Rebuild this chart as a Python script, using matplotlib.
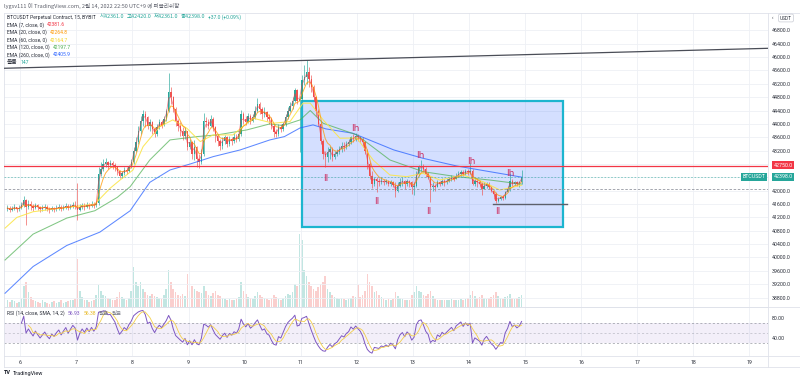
import numpy as np
import pandas as pd
import matplotlib
matplotlib.use("Agg")
import matplotlib.pyplot as plt
from matplotlib.patches import Rectangle
from matplotlib.lines import Line2D

plt.rcParams['font.family'] = ['Roboto', 'Noto Sans CJK KR', 'DejaVu Sans']
KR = ['Noto Sans CJK KR', 'DejaVu Sans']

# ---------------- data (hourly candles from Feb 5 18:00, UTC+9) ----------------
start_day = 5.75
first_open = 41450
close = [
    41480, 41420, 41460, 41510, 41440, 41470, 41560, 41720, 41520, 41600,
    41540, 41480, 41560, 41500, 41440, 41480, 41520, 41460, 41420, 41470,
    41440, 41480, 41510, 41460, 41500, 41540, 41490, 41530, 41580, 41560,
    41420, 41500, 41560, 41520, 41580, 41540, 41600, 41560, 41620, 42500,
    42650, 42800, 42850, 42780, 42820, 42760, 42700, 42580, 42450, 42520,
    42620, 42580, 42720, 42850, 43200, 43450, 43800, 44100, 44300, 44200,
    43950, 44050, 43850, 43700, 43900, 44050, 43980, 44150, 44380, 44950,
    44800, 44450, 44100, 43950, 43800, 43650, 43780, 43300, 43450, 43100,
    43300, 42950, 42850, 43100, 44100, 44050, 43950, 44150, 43900, 43650,
    43500, 43350, 43500, 43600, 43400, 43550, 43480, 43600, 43550, 43700,
    44300, 44150, 44050, 44250, 44100, 44200, 44400, 44600, 44450, 44300,
    44350, 44200, 44150, 43950, 43750, 43700, 43900, 43850, 44000, 44200,
    44400, 44550, 44700, 45000, 44700, 44750, 45300, 45400, 45550, 45350,
    45100, 44800, 44400, 44000, 43500, 43100, 43000, 43150, 43250, 43000,
    43100, 43150, 43250, 43350, 43300, 43400, 43450, 43600, 43550, 43650,
    43600, 43550, 43450, 43200, 42800, 42450, 42200, 42350, 42300, 42250,
    42300, 42250, 42280, 42200, 42250, 42180, 42000, 42150, 42250, 42300,
    42200, 42300, 42250, 42100, 42150, 42500, 42700, 42750, 42650, 42500,
    42420, 42100, 42150, 42100, 42250, 42200, 42300, 42250, 42300, 42350,
    42400, 42350, 42450, 42500, 42550, 42500, 42580, 42550, 42600, 42200,
    42300, 42250, 42200, 42050, 42150, 42200, 42100, 41980, 41900, 41700,
    41750, 41800, 41780, 41950, 42050, 42300, 42200, 42250, 42200, 42250,
    42398]
high = [
    41560, 41530, 41540, 41600, 41520, 41560, 41650, 41830, 41760, 41720,
    41680, 41600, 41640, 41600, 41540, 41560, 41600, 41560, 41500, 41540,
    41520, 41560, 41590, 41560, 41580, 41620, 41600, 41610, 41660, 41700,
    42230, 41600, 41640, 41620, 41660, 41640, 41680, 41660, 41700, 42700,
    42850, 42950, 42980, 42900, 42920, 42880, 42820, 42720, 42620, 42600,
    42700, 42700, 42780, 42950, 43300, 43600, 43950, 44250, 44420, 44380,
    44250, 44150, 44100, 43900, 44000, 44150, 44120, 44250, 44450, 45510,
    45100, 44850, 44500, 44150, 44050, 43900, 43900, 43800, 43550, 43500,
    43520, 43350, 43100, 43250, 44320, 44200, 44150, 44270, 44200, 43950,
    43700, 43550, 43600, 43680, 43630, 43650, 43620, 43730, 43700, 43780,
    44420, 44350, 44250, 44320, 44300, 44300, 44550, 44770, 44650, 44520,
    44500, 44400, 44300, 44200, 44000, 43850, 44000, 44000, 44060, 44300,
    44500, 44650, 44800, 45080, 45050, 44850, 45470, 45760, 45910, 45700,
    45450, 45150, 44850, 44450, 44050, 43550, 43200, 43300, 43350, 43300,
    43200, 43250, 43350, 43450, 43460, 43500, 43550, 43650, 43700, 43730,
    43700, 43650, 43600, 43500, 43250, 42850, 42600, 42420, 42420, 42380,
    42400, 42350, 42360, 42330, 42320, 42300, 42250, 42250, 42380, 42400,
    42320, 42350, 42330, 42300, 42250, 42600, 42780, 42920, 42800, 42700,
    42550, 42450, 42250, 42200, 42330, 42300, 42380, 42350, 42380, 42420,
    42470, 42450, 42520, 42580, 42620, 42620, 42640, 42650, 42820, 42650,
    42380, 42350, 42320, 42250, 42260, 42260, 42250, 42150, 42000, 41950,
    41820, 41850, 41860, 42000, 42150, 42520, 42350, 42300, 42280, 42300,
    42620]
low = [
    41380, 41350, 41380, 41420, 41360, 41390, 41440, 41500, 40970, 41450,
    41430, 41400, 41450, 41420, 41360, 41390, 41420, 41380, 41340, 41380,
    41360, 41400, 41420, 41390, 41410, 41440, 41410, 41440, 41470, 41460,
    41120, 41380, 41450, 41430, 41480, 41450, 41500, 41470, 41520, 41580,
    42450, 42600, 42700, 42650, 42700, 42650, 42580, 42480, 42380, 42380,
    42480, 42500, 42560, 42680, 42800, 43150, 43400, 43700, 43950, 43900,
    43850, 43800, 43700, 43600, 43650, 43850, 43880, 43950, 44100, 44350,
    44600, 44350, 43950, 43800, 43650, 43520, 43550, 43220, 43250, 42950,
    42920, 42720, 42680, 42800, 43050, 43900, 43850, 43900, 43800, 43460,
    43350, 43220, 43250, 43400, 43300, 43350, 43380, 43420, 43450, 43500,
    43650, 44000, 43980, 44020, 44000, 44050, 44150, 44350, 44300, 44150,
    44200, 44100, 44000, 43850, 43620, 43600, 43650, 43750, 43800, 43950,
    44150, 44350, 44450, 44650, 44600, 43170, 44700, 45150, 45200, 45100,
    44950, 44700, 44250, 43950, 43400, 42950, 42710, 42850, 42950, 42900,
    42950, 43050, 43100, 43170, 43200, 43250, 43350, 43400, 43450, 43500,
    43480, 43450, 43300, 43100, 42650, 42350, 42080, 42150, 41970, 42150,
    42200, 42170, 42200, 42150, 42150, 42100, 41800, 41950, 42100, 42150,
    42050, 42150, 42100, 41900, 41870, 42100, 42450, 42600, 42550, 42400,
    42350, 41670, 42000, 42000, 42100, 42150, 42180, 42150, 42200, 42250,
    42300, 42300, 42350, 42400, 42450, 42450, 42470, 42480, 42500, 42170,
    42150, 42120, 42100, 41870, 42050, 42070, 42050, 41950, 41750, 41620,
    41650, 41720, 41720, 41760, 41950, 42000, 42150, 42170, 42150, 42100,
    42200]
volume = [
    80, 60, 90, 70, 50, 60, 110, 250, 300, 180,
    120, 90, 70, 60, 50, 80, 60, 50, 40, 60,
    70, 50, 60, 80, 50, 60, 70, 90, 80, 100,
    590, 200, 120, 90, 80, 60, 70, 90, 150, 270,
    200, 150, 130, 110, 100, 90, 80, 120, 180, 120,
    100, 90, 110, 200, 490, 300, 250, 310, 220, 180,
    150, 130, 160, 140, 120, 110, 100, 150, 220, 450,
    300, 220, 180, 150, 130, 160, 140, 400, 200, 250,
    220, 200, 180, 170, 260, 190, 150, 140, 170, 200,
    150, 130, 110, 100, 90, 100, 80, 90, 100, 120,
    300, 200, 160, 120, 110, 100, 130, 180, 150, 120,
    110, 100, 90, 110, 150, 120, 100, 90, 110, 130,
    160, 150, 180, 280, 250, 890, 820, 450, 380, 300,
    260, 220, 200, 240, 280, 300, 380, 220, 180, 150,
    120, 110, 100, 110, 100, 90, 100, 110, 130, 120,
    270, 120, 150, 200, 400, 300, 250, 180, 200, 150,
    120, 100, 90, 100, 90, 100, 180, 130, 110, 100,
    90, 80, 90, 150, 180, 250, 200, 180, 150, 140,
    160, 200, 140, 100, 90, 80, 80, 90, 80, 90,
    100, 90, 80, 90, 100, 90, 100, 110, 150, 200,
    130, 110, 120, 150, 110, 100, 110, 120, 150, 180,
    130, 110, 100, 120, 130, 160, 110, 100, 110, 120,
    147]

# EMA lines (day, value)
ema60_t = [5.73, 5.94, 6.23, 6.83, 7.33, 7.60, 7.78, 8.01, 8.19, 8.49, 8.72, 8.97, 9.21, 9.44, 9.79, 10.15,
           10.51, 10.81, 11.04, 11.17, 11.40, 11.70, 12.00, 12.29, 12.59, 12.89, 13.18, 13.48, 13.89, 14.25, 14.55, 14.94]
ema60_v = [40880, 41200, 41370, 41500, 41600, 42070, 42320, 42620, 43320, 43920, 44120, 43870, 43470, 43670, 43670, 44170,
           44020, 44070, 44620, 44620, 44120, 43570, 43580, 42920, 42470, 42420, 42520, 42320, 42470, 42270, 42020, 42165]
ema120_t = [5.73, 6.23, 6.83, 7.33, 7.73, 7.96, 8.31, 8.67, 9.15, 9.51, 10.04, 10.45, 10.68, 10.99, 11.17, 11.40,
            12.00, 12.59, 13.18, 13.78, 14.37, 14.94]
ema120_v = [39925, 40700, 41180, 41400, 41800, 42120, 42920, 43520, 43620, 43670, 43820, 44000, 43950, 44120, 44400, 44020,
            43670, 42920, 42570, 42420, 42320, 42198]
ema260_t = [5.73, 6.23, 6.83, 7.42, 7.96, 8.31, 8.67, 9.03, 9.44, 9.92, 10.45, 10.71, 10.99, 11.22, 11.45, 11.93,
            12.66, 13.18, 13.78, 14.37, 14.94]
ema260_v = [38930, 39730, 40360, 40760, 41400, 42250, 42620, 42800, 43020, 43220, 43520, 43620, 43880, 43970, 43850, 43720,
            43220, 42970, 42740, 42570, 42406]

trend_t = [5.711, 19.33]
trend_v = [45665, 46263]
support_t = [14.43, 15.75]
support_v = [41600, 41600]
resistance = 42750
last_price = 42398
prev_level = 42040
box_t = [11.03, 15.67]
box_v = [40904, 44686]
swing_text = ['ll', 'lh', 'll', 'lh', 'll', 'lh', 'll', 'lh']
swing_t = [11.45, 11.97, 12.36, 13.14, 13.29, 14.04, 14.52, 14.73]
swing_v = [42380, 43850, 41670, 43040, 41390, 42860, 41370, 42520]

day_ticks = list(range(6, 20))
grid_prices = list(range(38800, 46801, 400))
price_ticks = [38800, 39200, 39600, 40000, 40400, 40800, 41200, 41600, 42000,
               43200, 43600, 44000, 44400, 44800, 45200, 45600, 46000, 46400, 46800]
rsi_ticks = [80, 40]

# ---------------- figure ----------------
W, H = 800, 383
fig = plt.figure(figsize=(8, 3.83), dpi=100)
fig.patch.set_facecolor('white')

def fx(px):
    return px / W

def fy(py):
    return 1 - py / H

ax = fig.add_axes([fx(4), fy(307), fx(764), (307 - 13) / H])
axr = fig.add_axes([fx(4), fy(356), fx(764), (356 - 307) / H], sharex=ax)

GRID = '#eef0f5'
SPINE = '#dfe2ea'
TXT = '#2a2e39'
UP = '#26a69a'
DN = '#ef5350'

n = len(close)
t = start_day + (np.arange(n) + 0.5) / 24
c = np.array(close, float)
o = np.concatenate([[first_open], c[:-1]])
hi = np.maximum.reduce([np.array(high, float), o, c])
lo = np.minimum.reduce([np.array(low, float), o, c])
up = c >= o
cols = np.where(up, UP, DN)

# volume
axv = ax.twinx()
axv.bar(t, volume, width=0.7 / 24, color=cols, alpha=0.28, lw=0)
axv.set_ylim(0, 3580)
axv.axis('off')
ax.set_zorder(axv.get_zorder() + 1)
ax.patch.set_visible(False)

ax.set_xlim(5.711, 19.33)

# grid
for d in day_ticks:
    ax.axvline(d, color=GRID, lw=0.6, zorder=0)
    axr.axvline(d, color=GRID, lw=0.6, zorder=0)
for p in grid_prices:
    ax.axhline(p, color=GRID, lw=0.6, zorder=0)

# box
ax.add_patch(Rectangle((box_t[0], box_v[0]), box_t[1] - box_t[0], box_v[1] - box_v[0],
                       facecolor=(0.16, 0.38, 1.0, 0.2), edgecolor='#1cb5cf', lw=1.6, zorder=2))

# candles
ax.vlines(t, lo, hi, colors=cols, lw=0.45, zorder=3)
body = np.maximum(np.abs(c - o), 12)
ax.bar(t, body, bottom=np.minimum(o, c), width=0.6 / 24, color=cols, lw=0, zorder=4)

# EMAs
s = pd.Series(c)
ema7 = s.ewm(span=7 / 4, adjust=False).mean()
ema20 = s.ewm(span=20 / 4, adjust=False).mean()
ax.plot(ema260_t, ema260_v, color='#2962ff', lw=0.75, alpha=0.75, zorder=5)
ax.plot(ema120_t, ema120_v, color='#4caf50', lw=0.75, alpha=0.7, zorder=5)
ax.plot(ema60_t, ema60_v, color='#fbe54a', lw=0.75, alpha=0.9, zorder=5)
ax.plot(t, ema20, color='#ff9800', lw=0.7, alpha=0.75, zorder=5)
ax.plot(t, ema7, color='#f23645', lw=0.6, alpha=0.6, zorder=5)

# lines
ax.plot(trend_t, trend_v, color='#4a4d57', lw=0.9, zorder=6)
ax.plot(support_t, support_v, color='#5d606b', lw=1.0, zorder=6)
ax.axhline(resistance, color='#f23645', lw=0.9, zorder=6)
ax.axhline(last_price, color=UP, lw=0.6, ls=(0, (2, 2)), alpha=0.6, zorder=6)
ax.axhline(prev_level, color='#9598a1', lw=0.6, ls=(0, (3, 2)), zorder=6)

for txt, tt, vv in zip(swing_text, swing_t, swing_v):
    ax.text(tt, vv, txt, color='#cc2f62', fontsize=6.5, ha='center', va='center', zorder=7,
            family='DejaVu Sans')

# axes styling
ax.yaxis.tick_right()
ax.set_yticks(price_ticks)
ax.set_yticklabels([f"{p:.1f}" for p in price_ticks])
ax.tick_params(axis='y', length=0, pad=2.9, labelsize=3.8, labelcolor=TXT)
ax.tick_params(axis='x', length=0, labelbottom=False)
ax.set_ylim(38518, 47320)
for sp in ax.spines.values():
    sp.set_color(SPINE)
    sp.set_linewidth(0.6)

# RSI
dlt = s.diff()
gain = dlt.clip(lower=0)
loss = (-dlt).clip(lower=0)
ag = gain.ewm(alpha=1 / 6, adjust=True, min_periods=6).mean()
al = loss.ewm(alpha=1 / 6, adjust=True, min_periods=6).mean()
rsi = 100 - 100 / (1 + ag / al)
rsi_ma = rsi.rolling(4).mean()
axr.axhspan(30, 70, color='#7e57c2', alpha=0.09, lw=0)
axr.axhline(70, color='#9598a1', lw=0.5, ls=(0, (3, 3)))
axr.axhline(50, color='#9598a1', lw=0.5, ls=(0, (3, 3)), alpha=0.6)
axr.axhline(30, color='#9598a1', lw=0.5, ls=(0, (3, 3)))
axr.plot(t, rsi, color='#7e57c2', lw=0.7)
axr.plot(t, rsi_ma, color='#f4cf4a', lw=0.6)
axr.set_ylim(4, 101.4)
axr.yaxis.tick_right()
axr.set_yticks(rsi_ticks)
axr.set_yticklabels([f"{v:.2f}" for v in rsi_ticks])
axr.set_xticks(day_ticks)
axr.set_xticklabels([str(d) for d in day_ticks])
axr.tick_params(axis='y', length=0, pad=2.9, labelsize=3.8, labelcolor=TXT)
axr.tick_params(axis='x', length=0, pad=2.6, labelsize=3.8, labelcolor=TXT)
axr.set_xlim(5.711, 19.33)
for sp in axr.spines.values():
    sp.set_color(SPINE)
    sp.set_linewidth(0.6)

# frame lines
def fline(x0, y0, x1, y1):
    fig.add_artist(Line2D([fx(x0), fx(x1)], [fy(y0), fy(y1)], color=SPINE, lw=0.6))

fline(768, 13, 800, 13)
fline(768, 307, 800, 307)
fline(768, 356, 800, 356)
fline(4, 367, 800, 367)
fline(768, 356, 768, 367)
fline(4, 356, 4, 367)

# price-scale labels
def plabel(x, y, s_, fc):
    fig.text(fx(x), fy(y), s_, color='white', fontsize=3.8, ha='center', va='center',
             bbox=dict(boxstyle='square,pad=0.3', fc=fc, ec='none'))

plabel(783, 165, '42750.0', '#f23645')
plabel(783, 177, '42398.0', UP)
plabel(754, 177, 'BTCUSDT', UP)
fig.text(fx(786), fy(18), 'USDT', color=TXT, fontsize=3.4, ha='center', va='center',
         bbox=dict(boxstyle='round,pad=0.3', fc='white', ec='#c8cbd3', lw=0.5))
fig.text(fx(772.5), fy(17.5), '‹', color=TXT, fontsize=3.6, ha='center', va='center')

# legends
renderer = fig.canvas.get_renderer()

def seq(x, y, parts, fs=3.6):
    for s_, colr, gap, fam, size in parts:
        kw = {'family': fam} if fam else {}
        tt = fig.text(fx(x), fy(y), s_, color=colr, fontsize=size or fs, ha='left', va='center', **kw)
        bb = tt.get_window_extent(renderer=renderer)
        x = bb.x1 + gap

fig.text(fx(4), fy(6), 'lygsv111 이 TradingView.com, 2월 14, 2022 22:50 UTC+9 에 퍼블리쉬함',
         color='#5d606b', fontsize=4.0, ha='left', va='center', family=KR)
seq(7, 17, [('BTCUSDT Perpetual Contract, 15, BYBIT', TXT, 4, None, None),
            ('시42361.0', UP, 2.5, KR, 3.9), ('고42420.0', UP, 2.5, KR, 3.9), ('저42361.0', UP, 2.5, KR, 3.9),
            ('종42398.0', UP, 2.5, KR, 3.9), ('+37.0 (+0.09%)', UP, 2, None, None)])
seq(7, 25, [('EMA (7, close, 0)', TXT, 3, None, None), ('42381.6', '#f23645', 0, None, None)])
seq(7, 32.5, [('EMA (20, close, 0)', TXT, 3, None, None), ('42264.8', '#ff9800', 0, None, None)])
seq(7, 40, [('EMA (60, close, 0)', TXT, 3, None, None), ('42164.7', '#f5d327', 0, None, None)])
seq(7, 47.5, [('EMA (120, close, 0)', TXT, 3, None, None), ('42197.7', '#4caf50', 0, None, None)])
seq(7, 55, [('EMA (260, close, 0)', TXT, 3, None, None), ('42405.9', '#2962ff', 0, None, None)])
seq(7, 62, [('볼륨', TXT, 3, KR, 4.2), ('147', UP, 0, None, None)])
seq(7, 313.5, [('RSI (14, close, SMA, 14, 2)', TXT, 3, None, None), ('56.93', '#7e57c2', 3, None, None),
               ('56.38', '#e8b923', 3, None, None), ('없음', '#787b86', 3, KR, 4.0),
               ('없음', '#787b86', 0, KR, 4.0)])

# TradingView logo
fig.text(fx(4), fy(373), 'TV', color='#131722', fontsize=4, fontweight='bold', ha='left', va='center')
fig.text(fx(12.7), fy(373), 'TradingView', color='#131722', fontsize=4, ha='left', va='center')

fig.savefig('out.png', dpi=100, facecolor='white')
